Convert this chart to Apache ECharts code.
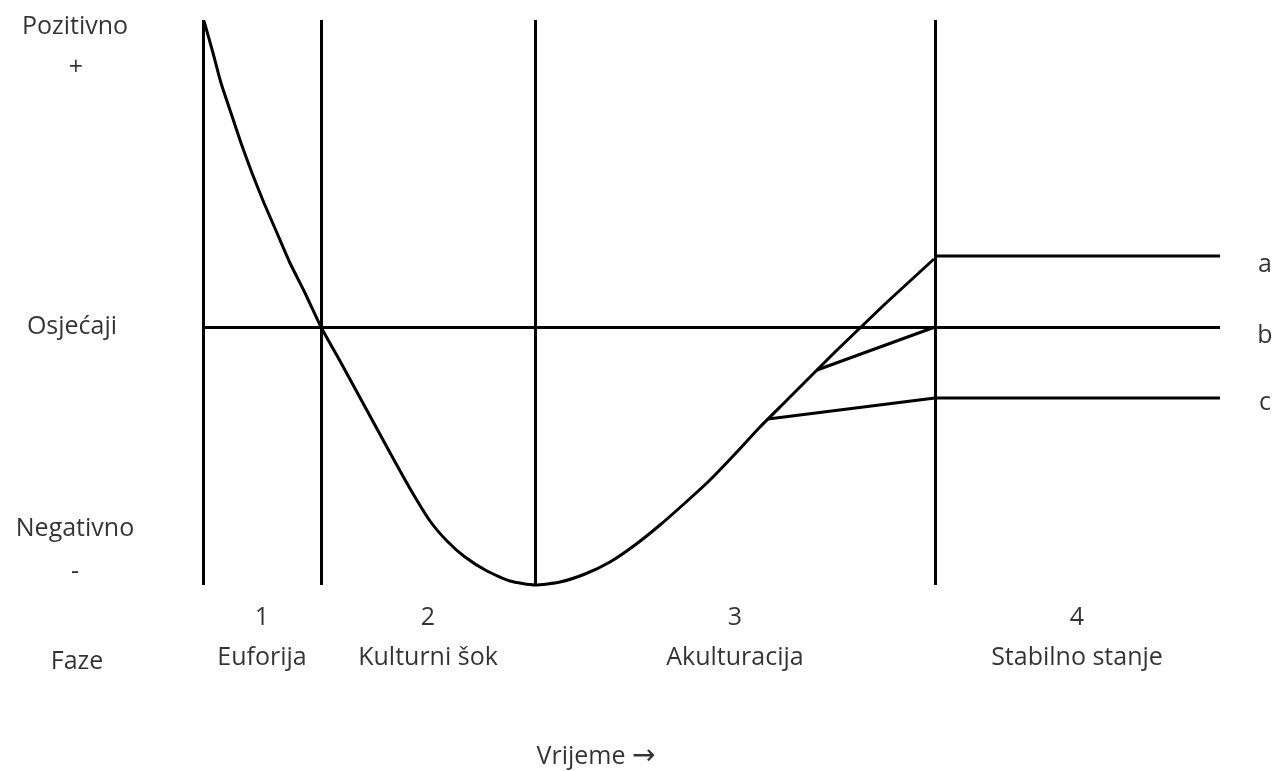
<!DOCTYPE html>
<html>
<head>
<meta charset="utf-8">
<script src="https://cdn.jsdelivr.net/npm/echarts@6/dist/echarts.min.js"></script>
<style>
html,body{margin:0;padding:0;background:#fff;}
#chart{width:1282px;height:771px;}
</style>
</head>
<body>
<div id="chart"></div>
<script>
// Time axis (x) and feeling axis (y, 0 = neutral "Osjećaji")
const phaseBoundaries = [0, 118, 332, 732];
const xEnd = 1017;
const yMin = -258, yMax = 307;

// Main U-curve: [time, feeling]
const curve = [
  [1, 306], [10, 274], [18, 244], [28, 214], [38, 184], [49, 154], [61, 124],
  [74, 94], [87, 64], [102, 34], [118, 0],
  [137, -34], [155, -67], [173, -100], [191, -133], [209, -165], [227, -194],
  [244, -214], [262, -230], [284, -244], [307, -254], [332, -258],
  [357, -255], [382, -247], [407, -235], [432, -218], [457, -198], [482, -176],
  [507, -153], [532, -127], [557, -100], [582, -75], [607, -50], [632, -25],
  [657, -1], [682, 23], [707, 46], [731, 68]
];
// Outcome branches
const branchA = [[732, 71], [1017, 71]];
const branchB = [[614, -43], [732, 0]];
const branchC = [[565, -92], [732, -71], [1017, -71]];

// Phase labels
const phaseNumbers = ['1', '2', '3', '4'];
const phaseNames = ['Euforija', 'Kulturni šok', 'Akulturacija', 'Stabilno stanje'];
const phaseCenters = [59, 225, 532, 874];
const phaseNumY = -291, phaseNameY = -331;

// Left-side axis labels
const leftLabels = [
  { name: 'Pozitivno', value: [-128, 300] },
  { name: '+', value: [-127, 259] },
  { name: 'Osjećaji', value: [-131, 0] },
  { name: 'Negativno', value: [-128, -202] },
  { name: '-', value: [-128, -245] },
  { name: 'Faze', value: [-126, -335] }
];
// Branch end labels
const branchLabels = [
  { name: 'a', value: [1062, 62] },
  { name: 'b', value: [1062, -9] },
  { name: 'c', value: [1062, -76] }
];
const timeLabel = [{ name: 'Vrijeme →', value: [393, -430] }];

const FONT = '"Open Sans", "Noto Sans", sans-serif';
const FS = 25;

const phaseLabelData = [];
phaseNumbers.forEach((n, i) => phaseLabelData.push({ name: n, value: [phaseCenters[i], phaseNumY] }));
phaseNames.forEach((n, i) => phaseLabelData.push({ name: n, value: [phaseCenters[i], phaseNameY] }));

const lineStyle = { color: '#000', width: 3, type: 'solid' };

function textSeries(data, fmt) {
  return {
    type: 'scatter', data: data, symbolSize: 1, clip: false, silent: true,
    itemStyle: { color: 'rgba(0,0,0,0)' },
    label: {
      show: true, position: 'inside', formatter: fmt || '{b}',
      color: '#000', fontFamily: FONT, fontSize: FS,
      rich: {
        arr: { fontFamily: '"DejaVu Sans", sans-serif', fontSize: 28, color: '#000' }
      }
    }
  };
}

const chart = echarts.init(document.getElementById('chart'), null, { renderer: 'canvas' });
chart.setOption({
  backgroundColor: '#fff',
  animation: false,
  grid: { left: 203, top: 20, width: 1017, height: 565 },
  xAxis: { type: 'value', min: 0, max: xEnd, show: false },
  yAxis: { type: 'value', min: yMin, max: yMax, show: false },
  series: [
    {
      type: 'line', data: curve, smooth: 0.2,
      symbol: 'none', lineStyle: lineStyle, clip: false, z: 3,
      markLine: {
        silent: true, symbol: 'none', label: { show: false },
        lineStyle: lineStyle, animation: false,
        data: phaseBoundaries.map(v => ({ xAxis: v })).concat([{ yAxis: 0 }])
      }
    },
    { type: 'line', data: branchA, symbol: 'none', lineStyle: lineStyle, clip: false },
    { type: 'line', data: branchB, symbol: 'none', lineStyle: lineStyle, clip: false },
    { type: 'line', data: branchC, symbol: 'none', lineStyle: lineStyle, clip: false },
    textSeries(leftLabels),
    textSeries(phaseLabelData),
    textSeries(branchLabels),
    textSeries(timeLabel, function (p) {
      const parts = p.name.split(' ');
      return parts[0] + ' {arr|' + parts[1] + '}';
    })
  ]
});
</script>
</body>
</html>
